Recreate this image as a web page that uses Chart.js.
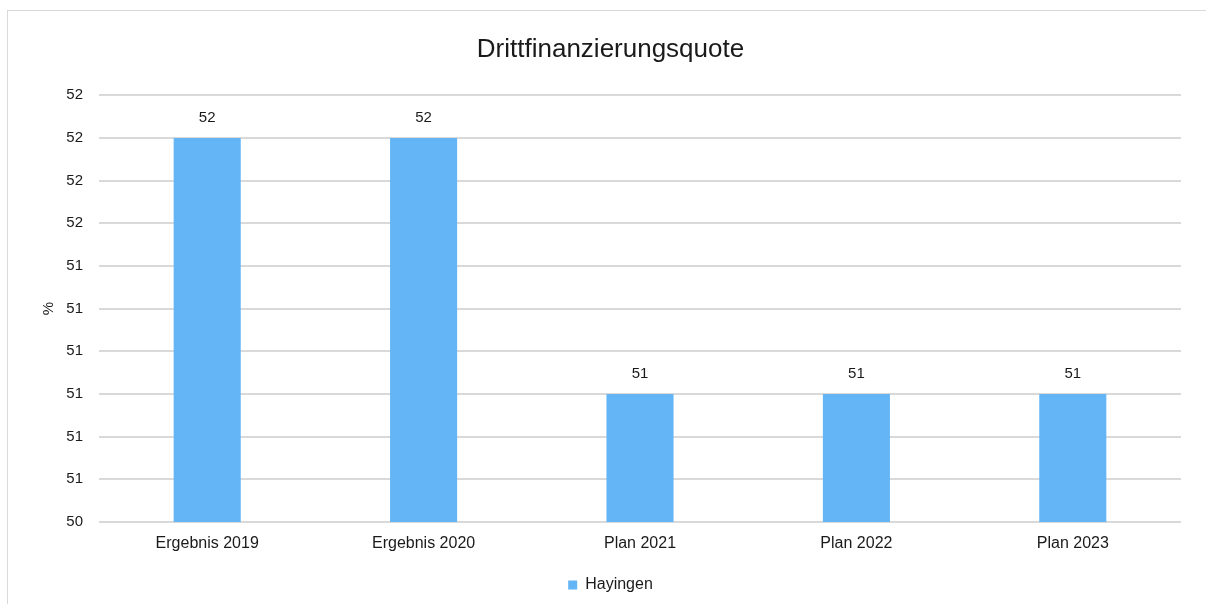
<!DOCTYPE html>
<html>
<head>
<meta charset="utf-8">
<script src="https://cdn.jsdelivr.net/npm/chart.js@4/dist/chart.umd.min.js"></script>
<style>
  html, body { margin: 0; padding: 0; background: #ffffff; }
  #wrap { position: relative; width: 1206px; height: 604px; overflow: hidden; }
  #frame { position: absolute; left: 7px; top: 10px; width: 1220px; height: 620px; border: 1px solid #d9d9d9; box-sizing: border-box; }
  canvas { position: absolute; left: 0; top: 0; }
</style>
</head>
<body>
<div id="wrap">
  <div id="frame"></div>
  <canvas id="c" width="1206" height="604"></canvas>
</div>
<script>
const categories = ["Ergebnis 2019", "Ergebnis 2020", "Plan 2021", "Plan 2022", "Plan 2023"];
const seriesName = "Hayingen";
const values = [51.8, 51.8, 50.6, 50.6, 50.6];
const valueLabels = ["52", "52", "51", "51", "51"];
const yTickLabels = ["50", "51", "51", "51", "51", "51", "51", "52", "52", "52", "52"];
const yMin = 50, yMax = 52, yStep = 0.2;

const FONT = "'Liberation Sans', Arial, sans-serif";
const TEXT = "#1a1a1a";
const BAR = "#63b5f5";
const GRID = "#d9d9d9";

const dataLabelPlugin = {
  id: 'dataLabels',
  afterDatasetsDraw(chart) {
    const ctx = chart.ctx;
    const meta = chart.getDatasetMeta(0);
    ctx.save();
    ctx.font = "15px " + FONT;
    ctx.fillStyle = TEXT;
    ctx.textAlign = 'center';
    ctx.textBaseline = 'middle';
    meta.data.forEach((el, i) => {
      ctx.fillText(valueLabels[i], el.x, el.y - 20);
    });
    ctx.restore();
  }
};

new Chart(document.getElementById('c'), {
  type: 'bar',
  data: {
    labels: categories,
    datasets: [{
      label: seriesName,
      data: values,
      backgroundColor: BAR,
      borderWidth: 0,
      barPercentage: 0.31,
      categoryPercentage: 1.0
    }]
  },
  options: {
    responsive: false,
    animation: false,
    devicePixelRatio: 1,
    layout: { padding: { left: 40, right: 25, top: 0, bottom: 1 } },
    plugins: {
      title: {
        display: true,
        text: "Drittfinanzierungsquote",
        color: TEXT,
        font: { family: FONT, size: 26, weight: 'normal' },
        padding: { top: 34, bottom: 30 }
      },
      legend: {
        position: 'bottom',
        labels: {
          color: TEXT,
          font: { family: FONT, size: 16 },
          boxWidth: 9,
          boxHeight: 9,
          padding: 10
        }
      },
      tooltip: { enabled: false }
    },
    scales: {
      x: {
        grid: { display: false, drawTicks: false },
        border: { display: false },
        ticks: { color: TEXT, font: { family: FONT, size: 16 }, padding: 12, maxRotation: 0 },
        afterFit(s) { s.height = 45; }
      },
      y: {
        min: yMin,
        max: yMax,
        grid: { color: GRID, lineWidth: 2, drawTicks: false },
        border: { display: false },
        ticks: {
          stepSize: yStep,
          color: TEXT,
          font: { family: FONT, size: 15 },
          padding: 16,
          callback: (v, i) => yTickLabels[i]
        },
        title: {
          display: true,
          text: "%",
          color: TEXT,
          font: { family: FONT, size: 15 },
          padding: 0
        },
        afterFit(s) { s.width = 59; }
      }
    }
  },
  plugins: [dataLabelPlugin]
});
</script>
</body>
</html>
